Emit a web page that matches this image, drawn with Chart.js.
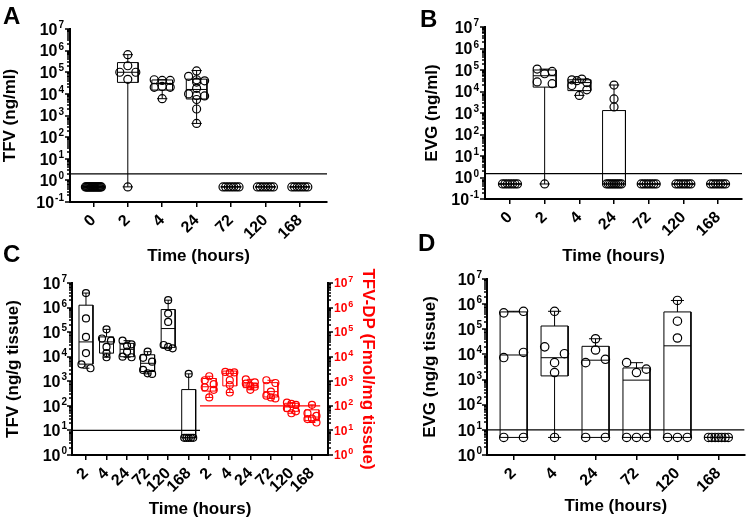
<!DOCTYPE html>
<html>
<head>
<meta charset="utf-8">
<title>TFV / EVG concentrations</title>
<script src="https://cdn.jsdelivr.net/npm/chart.js@4.4.1/dist/chart.umd.min.js"></script>
<style>
  body { margin: 0; background: #fff; }
  #wrap { position: relative; width: 750px; height: 524px; overflow: hidden; }
  #wrap canvas { position: absolute; left: 0; top: 0; width: 750px; height: 524px; }
  .panel-letter {
    position: absolute;
    font: bold 24px "Liberation Sans", Arial, sans-serif;
    line-height: 24px;
    color: #000;
  }
</style>
</head>
<body>
<div id="wrap">
  <canvas id="chartA" width="750" height="524"></canvas>
  <canvas id="chartB" width="750" height="524"></canvas>
  <canvas id="chartC" width="750" height="524"></canvas>
  <canvas id="chartD" width="750" height="524"></canvas>
  <div class="panel-letter" style="left:3px;top:4px">A</div>
  <div class="panel-letter" style="left:420px;top:7px">B</div>
  <div class="panel-letter" style="left:3px;top:242px">C</div>
  <div class="panel-letter" style="left:418px;top:231px">D</div>
</div>
<script>
const FONT = '"Liberation Sans", Arial, sans-serif';

// ---- data ----
const plasmaHours = ['0', '2', '4', '24', '72', '120', '168'];
const tissueHours = ['2', '4', '24', '72', '120', '168'];

// plasma TFV (ng/ml), one list of animals per time point
const tfvPlasmaPoints = [
  [0.5, 0.5, 0.5, 0.5, 0.5, 0.5, 0.5, 0.5, 0.5, 0.5, 0.5, 0.5, 0.5, 0.5, 0.5, 0.5, 0.5, 0.5, 0.5, 0.5],
  [6.5e5, 2e5, 1e5, 1e5, 4.7e4, 0.5],
  [4.5e4, 4.2e4, 4.2e4, 2e4, 2.2e4, 2e4, 6e3],
  [1.15e5, 6.5e4, 4.5e4, 4e4, 3.5e4, 1.8e4, 1e4, 8.5e3, 8e3, 5.5e3, 2e3, 4.3e2],
  [0.5, 0.5, 0.5, 0.5, 0.5, 0.5, 0.5],
  [0.5, 0.5, 0.5, 0.5, 0.5, 0.5, 0.5],
  [0.5, 0.5, 0.5, 0.5, 0.5, 0.5, 0.5]
];
// [min, q1, median, q3, max]
const tfvPlasmaBoxes = [
  [0.5, 0.5, 0.5, 0.5, 0.5],
  [0.5, 3.4e4, 1e5, 2.8e5, 6.5e5],
  [6e3, 1.5e4, 3e4, 4.4e4, 4.5e4],
  [4.3e2, 5.8e3, 1.6e4, 4.8e4, 1.2e5],
  [0.5, 0.5, 0.5, 0.5, 0.5],
  [0.5, 0.5, 0.5, 0.5, 0.5],
  [0.5, 0.5, 0.5, 0.5, 0.5]
];
const tfvPlasmaLoq = 2;

// plasma EVG (ng/ml)
const evgPlasmaPoints = [
  [0.5, 0.5, 0.5, 0.5, 0.5, 0.5, 0.5],
  [1.1e5, 6.7e4, 8.6e4, 2.8e4, 2.3e4, 0.5],
  [3.5e4, 3.2e4, 3.8e4, 2.6e4, 1.9e4, 1.2e4, 6.6e3],
  [2e4, 4.5e3, 1.9e3, 0.5, 0.5, 0.5, 0.5, 0.5, 0.5, 0.5, 0.5, 0.5],
  [0.5, 0.5, 0.5, 0.5, 0.5, 0.5, 0.5],
  [0.5, 0.5, 0.5, 0.5, 0.5, 0.5, 0.5],
  [0.5, 0.5, 0.5, 0.5, 0.5, 0.5, 0.5]
];
const evgPlasmaBoxes = [
  [0.5, 0.5, 0.5, 0.5, 0.5],
  [0.5, 1.6e4, 5.4e4, 1e5, 1.1e5],
  [6.6e3, 1.1e4, 2.6e4, 3.5e4, 3.8e4],
  [0.5, 0.5, 0.5, 1.3e3, 2e4],
  [0.5, 0.5, 0.5, 0.5, 0.5],
  [0.5, 0.5, 0.5, 0.5, 0.5],
  [0.5, 0.5, 0.5, 0.5, 0.5]
];
const evgPlasmaLoq = 1.5;

// tissue TFV (ng/g tissue)
const tfvTissuePoints = [
  [3.9e6, 3.6e5, 6.4e4, 1.4e4, 4.9e3, 3.4e3],
  [1.3e5, 5.5e4, 4.5e4, 2.5e4, 1.4e4, 9.5e3],
  [4.5e4, 3.2e4, 2.8e4, 1.6e4, 1e4, 9.5e3],
  [1.6e4, 9e3, 6.3e3, 2.9e3, 2.1e3, 2e3],
  [2e6, 5.7e5, 2.6e5, 3e4, 2.5e4, 2.2e4],
  [2e3, 5, 5, 5, 5, 5]
];
const tfvTissueBoxes = [
  [3.4e3, 5e3, 4e4, 1.25e6, 3.9e6],
  [9.5e3, 1.4e4, 4e4, 6.4e4, 1.3e5],
  [9.5e3, 1e4, 2e4, 3.5e4, 4.5e4],
  [2e3, 2.5e3, 5.4e3, 1.2e4, 1.6e4],
  [2.2e4, 2.4e4, 1.4e5, 8.3e5, 2e6],
  [5, 5, 5, 4.6e2, 2e3]
];
const tfvTissueLoq = 10;

// tissue TFV-DP (fmol/mg tissue)
const tfvdpTissuePoints = [
  [1.6e3, 1.1e3, 7.6e2, 5.7e2, 4.5e2, 2.2e2],
  [2.4e3, 2.2e3, 2.3e3, 1.1e3, 7e2, 3.5e2],
  [1.2e3, 9e2, 8e2, 6.5e2, 6e2, 4.5e2],
  [1.1e3, 8.5e2, 3.8e2, 2.6e2, 2.2e2, 2e2],
  [1.35e2, 1.2e2, 1.1e2, 8e1, 6e1, 5e1],
  [1.1e2, 5e1, 3.9e1, 2.9e1, 3e1, 2.1e1]
];
const tfvdpTissueBoxes = [
  [2.2e2, 4e2, 6e2, 1.3e3, 1.6e3],
  [3.5e2, 6.5e2, 2.1e3, 2.6e3, 2.6e3],
  [4.5e2, 5.5e2, 7e2, 8.5e2, 1.2e3],
  [2e2, 2.3e2, 3.8e2, 8.8e2, 1.1e3],
  [5e1, 6e1, 9e1, 1.27e2, 1.35e2],
  [2.1e1, 2.5e1, 3.5e1, 6.9e1, 1.1e2]
];
const tfvdpTissueLoq = 100;

// tissue EVG (ng/g tissue)
const evgTissuePoints = [
  [4.5e5, 5.2e5, 7.5e3, 1.2e4, 5, 5],
  [5.2e5, 2e4, 1.07e4, 4.7e3, 1.9e3, 5],
  [4.2e4, 1.5e4, 4.7e3, 6.4e3, 5, 5],
  [4.7e3, 1.9e3, 2.6e3, 5, 5, 5],
  [1.4e6, 2.1e5, 4.5e4, 5, 5, 5],
  [5, 5, 5, 5, 5, 5, 5]
];
const evgTissueBoxes = [
  [5, 5, 9.5e3, 4.9e5, 5.2e5],
  [5, 1.4e3, 7.4e3, 1.35e5, 5.2e5],
  [5, 5, 5.9e3, 2.1e4, 4.2e4],
  [5, 5, 9.5e2, 2.9e3, 4.7e3],
  [5, 5, 2.2e4, 4.9e5, 1.4e6],
  [5, 5, 5, 5, 5]
];
const evgTissueLoq = 10;

// ---- helpers ----

// spreads points of similar value side by side (scatter dot plot)
function spreadX(vals, pxDec, rowGap, halfW) {
  const order = vals.map((v, i) => i).sort((a, b) => vals[b] - vals[a] || a - b);
  const off = new Array(vals.length).fill(0);
  let row = [];
  const flush = () => {
    row.sort((a, b) => a - b);
    const n = row.length;
    row.forEach((k, j) => { off[k] = n > 1 ? -halfW + 2 * halfW * j / (n - 1) : 0; });
    row = [];
  };
  order.forEach(k => {
    if (row.length && (Math.log10(vals[row[0]]) - Math.log10(vals[k])) * pxDec >= rowGap) flush();
    row.push(k);
  });
  flush();
  return off;
}

function boxLines(boxes, shift, half, cap) {
  const box = [], whisk = [];
  boxes.forEach((b, i) => {
    const [lo, q1, md, q3, hi] = b;
    const x = i + shift;
    box.push({x: x - half, y: q1}, {x: x - half, y: q3}, {x: x + half, y: q3},
             {x: x + half, y: q1}, {x: x - half, y: q1}, {x: x, y: null});
    box.push({x: x - half, y: md}, {x: x + half, y: md}, {x: x, y: null});
    if (hi > q3) {
      whisk.push({x: x, y: q3}, {x: x, y: hi}, {x: x, y: null});
      whisk.push({x: x - cap, y: hi}, {x: x + cap, y: hi}, {x: x, y: null});
    }
    if (lo < q1) {
      whisk.push({x: x, y: lo}, {x: x, y: q1}, {x: x, y: null});
      whisk.push({x: x - cap, y: lo}, {x: x + cap, y: lo}, {x: x, y: null});
    }
  });
  return {box, whisk};
}

function lineSet(data, color, axis, width) {
  return {
    data, yAxisID: axis, borderColor: color, borderWidth: width || 1,
    pointRadius: 0, fill: false, spanGaps: false, order: 2
  };
}

function pointSet(groups, shift, color, axis, p) {
  const data = [];
  groups.forEach((vals, i) => {
    const off = spreadX(vals, p.pxDec, p.rowGap, p.spreadPx);
    vals.forEach((v, k) => data.push({x: i + shift + off[k] / p.pxCat, y: v}));
  });
  return {
    data, yAxisID: axis, showLine: false, order: 0,
    pointRadius: p.r, pointBorderWidth: 1.2,
    pointBorderColor: color, pointBackgroundColor: 'rgba(0,0,0,0)'
  };
}

// log axis ticks (major + minor) and 10^n labels
const logAxisPlugin = {
  id: 'logAxis',
  afterDraw(chart, args, opts) {
    const ctx = chart.ctx;
    (opts.axes || []).forEach(a => {
      const s = chart.scales[a.id];
      const left = a.side === 'left';
      const x0 = left ? s.right : s.left;
      const dir = left ? -1 : 1;
      const e0 = Math.round(Math.log10(s.min)), e1 = Math.round(Math.log10(s.max));
      ctx.save();
      ctx.strokeStyle = '#000';
      ctx.lineWidth = 1.5;
      ctx.beginPath();
      for (let e = e0; e <= e1; e++) {
        for (let k = 1; k <= 9; k++) {
          const v = k * Math.pow(10, e);
          if (v > s.max * 1.0001) break;
          const y = Math.round(s.getPixelForValue(v));
          ctx.moveTo(x0, y);
          ctx.lineTo(x0 + dir * (k === 1 ? a.major : a.minor), y);
        }
      }
      ctx.stroke();
      ctx.fillStyle = a.color;
      ctx.textBaseline = 'alphabetic';
      for (let e = e0; e <= e1; e++) {
        const y = s.getPixelForValue(Math.pow(10, e));
        const base = y + a.size * 0.36;
        const exp = String(e);
        ctx.font = 'bold ' + a.size + 'px ' + FONT;
        const w10 = ctx.measureText('10').width;
        ctx.font = 'bold ' + a.expSize + 'px ' + FONT;
        const wE = ctx.measureText(exp).width;
        const xs = left ? x0 - a.gap - wE - w10 - 1 : x0 + a.gap;
        ctx.font = 'bold ' + a.size + 'px ' + FONT;
        ctx.fillText('10', xs, base);
        ctx.font = 'bold ' + a.expSize + 'px ' + FONT;
        ctx.fillText(exp, xs + w10 + 1, base - a.size * 0.42);
      }
      ctx.restore();
    });
  }
};

function titleOpt(text, color) {
  return {display: true, text, color: color || '#000', padding: 0,
          font: {size: 17, weight: 'bold', family: FONT}};
}

function buildPanel(id, p) {
  const datasets = [];
  p.groups.forEach(g => {
    const lines = boxLines(g.boxes, g.shift, p.boxHalf, p.capHalf);
    datasets.push(lineSet(lines.box, g.color, g.axis));
    datasets.push(lineSet(lines.whisk, g.color, g.axis));
    datasets.push(pointSet(g.points, g.shift, g.color, g.axis, p));
  });
  p.loq.forEach(l => datasets.push(
    lineSet([{x: l.from, y: l.value}, {x: l.to, y: l.value}], l.color, l.axis, 1.2)));

  const scales = {
    x: {
      type: 'linear', min: p.xMin, max: p.xMax, offset: false,
      afterBuildTicks: s => { s.ticks = p.cats.map((c, i) => ({value: i})); },
      afterFit: s => { s.height = p.xHeight; },
      ticks: {
        autoSkip: false, minRotation: 45, maxRotation: 45, padding: 4,
        font: {size: 16, weight: 'bold', family: FONT},
        color: '#000',
        callback: v => p.cats[Math.round(v)]
      },
      grid: {display: true, drawOnChartArea: false, drawTicks: true, tickLength: 5,
             color: '#000', lineWidth: 1.5},
      border: {display: true, color: '#000', width: 2},
      title: titleOpt('Time (hours)')
    },
    y: {
      type: 'logarithmic', position: 'left', min: p.yMin, max: p.yMax,
      afterFit: s => { s.width = p.yWidth; },
      ticks: {display: false},
      grid: {display: false},
      border: {display: true, color: '#000', width: 2},
      title: titleOpt(p.yTitle)
    }
  };
  const axes = [{id: 'y', side: 'left', color: '#000', size: p.labelSize, expSize: p.expSize,
                 gap: p.labelGap, major: 5, minor: 3}];
  if (p.right) {
    scales.y2 = {
      type: 'logarithmic', position: 'right', min: p.yMin, max: p.yMax,
      afterFit: s => { s.width = p.right.width; },
      ticks: {display: false},
      grid: {display: false},
      border: {display: true, color: '#000', width: 2},
      title: titleOpt(p.right.title, p.right.color)
    };
    axes.push({id: 'y2', side: 'right', color: p.right.color, size: 12, expSize: 9,
               gap: 6, major: 5, minor: 3});
  }

  new Chart(document.getElementById(id), {
    type: 'line',
    data: {datasets},
    options: {
      responsive: false,
      animation: false,
      devicePixelRatio: 1,
      events: [],
      layout: {padding: p.padding},
      plugins: {legend: {display: false}, tooltip: {enabled: false},
                logAxis: {axes}},
      scales
    },
    plugins: [logAxisPlugin]
  });
}

// ---- panels ----
buildPanel('chartA', {
  cats: plasmaHours, xMin: -0.68, xMax: 6.79, yMin: 0.1, yMax: 1e7,
  padding: {left: 0, top: 29, right: 423, bottom: 257}, yWidth: 70, xHeight: 65,
  pxCat: 34.4, pxDec: 21.6, r: 4, rowGap: 5, spreadPx: 8, boxHalf: 0.3, capHalf: 0.15,
  labelSize: 16, expSize: 10, labelGap: 6, yTitle: 'TFV (ng/ml)',
  groups: [{points: tfvPlasmaPoints, boxes: tfvPlasmaBoxes, shift: 0, color: '#000', axis: 'y'}],
  loq: [{value: tfvPlasmaLoq, from: -0.68, to: 6.79, color: '#000', axis: 'y'}]
});

buildPanel('chartB', {
  cats: plasmaHours, xMin: -0.72, xMax: 6.69, yMin: 0.1, yMax: 1e7,
  padding: {left: 422, top: 27, right: 8, bottom: 257}, yWidth: 63, xHeight: 68,
  pxCat: 34.7, pxDec: 21.5, r: 4, rowGap: 5, spreadPx: 7.5, boxHalf: 0.33, capHalf: 0.15,
  labelSize: 16, expSize: 10, labelGap: 6, yTitle: 'EVG (ng/ml)',
  groups: [{points: evgPlasmaPoints, boxes: evgPlasmaBoxes, shift: 0, color: '#000', axis: 'y'}],
  loq: [{value: evgPlasmaLoq, from: -0.72, to: 6.69, color: '#000', axis: 'y'}]
});

buildPanel('chartC', {
  cats: tissueHours.concat(tissueHours),
  xMin: -0.68, xMax: 11.78, yMin: 1, yMax: 1e7,
  padding: {left: 3, top: 283, right: 372, bottom: 4}, yWidth: 69, xHeight: 65,
  pxCat: 20.55, pxDec: 24.6, r: 3.5, rowGap: 4, spreadPx: 4.5, boxHalf: 0.34, capHalf: 0.17,
  labelSize: 16, expSize: 10, labelGap: 5, yTitle: 'TFV (ng/g tissue)',
  right: {width: 50, title: 'TFV-DP (Fmol/mg tissue)', color: '#ff0000'},
  groups: [
    {points: tfvTissuePoints, boxes: tfvTissueBoxes, shift: 0, color: '#000', axis: 'y'},
    {points: tfvdpTissuePoints, boxes: tfvdpTissueBoxes, shift: 6, color: '#ff0000', axis: 'y2'}
  ],
  loq: [
    {value: tfvTissueLoq, from: -0.68, to: 5.55, color: '#000', axis: 'y'},
    {value: tfvdpTissueLoq, from: 5.55, to: 11.4, color: '#ff0000', axis: 'y2'}
  ]
});

buildPanel('chartD', {
  cats: tissueHours, xMin: -0.65, xMax: 5.64, yMin: 1, yMax: 1e7,
  padding: {left: 420, top: 279, right: 2, bottom: 7}, yWidth: 67, xHeight: 62,
  pxCat: 41.5, pxDec: 25.2, r: 4.2, rowGap: 8, spreadPx: 10, boxHalf: 0.33, capHalf: 0.16,
  labelSize: 16, expSize: 10, labelGap: 5, yTitle: 'EVG (ng/g tissue)',
  groups: [{points: evgTissuePoints, boxes: evgTissueBoxes, shift: 0, color: '#000', axis: 'y'}],
  loq: [{value: evgTissueLoq, from: -0.65, to: 5.64, color: '#000', axis: 'y'}]
});
</script>
</body>
</html>
